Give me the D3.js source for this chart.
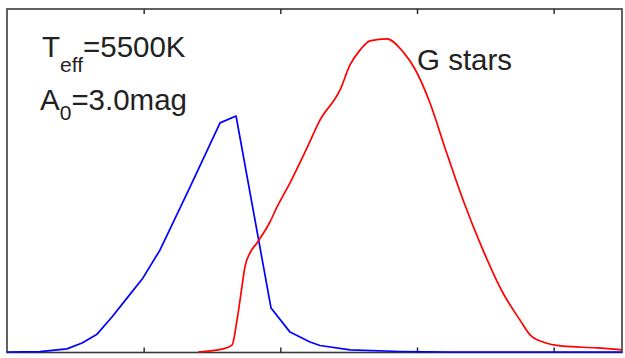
<!DOCTYPE html>
<html>
<head>
<meta charset="utf-8">
<script src="https://cdn.jsdelivr.net/npm/d3@7"></script>
<style>
  html, body { margin: 0; padding: 0; background: #fff; }
  svg { display: block; }
  text { font-family: "Liberation Sans", Arial, Helvetica, sans-serif; fill: #222; }
</style>
</head>
<body>
<svg id="chart" width="625" height="358"></svg>
<script>
// Distribution of the unreddened (blue) and reddened G-star sample (red)
const xTicks = [1, 2, 3, 4];

const blueX = [0, 0.241, 0.439, 0.549, 0.659, 0.768, 0.878, 0.995, 1.119, 1.339, 1.559, 1.676,
               1.932, 2.071, 2.217, 2.290, 2.510, 2.876, 3.241, 4.5];
const blueY = [0, 0.001, 0.009, 0.026, 0.052, 0.102, 0.157, 0.216, 0.297, 0.481, 0.668, 0.688,
               0.128, 0.058, 0.029, 0.019, 0.006, 0.0015, 0, 0];

const redX = [1.398, 1.580, 1.646, 1.683, 1.719, 1.741, 1.778, 1.829, 1.924, 1.976,
              2.071, 2.195, 2.290, 2.437, 2.510, 2.583, 2.656, 2.780, 2.898, 2.985,
              3.095, 3.205, 3.337, 3.483, 3.629, 3.754, 3.827, 3.922, 4.068, 4.317, 4.5];
const redY = [0, 0.009, 0.020, 0.093, 0.190, 0.248, 0.289, 0.318, 0.379, 0.423,
              0.493, 0.595, 0.676, 0.764, 0.837, 0.880, 0.907, 0.913, 0.875, 0.825,
              0.726, 0.595, 0.443, 0.297, 0.172, 0.093, 0.050, 0.029, 0.017, 0.012, 0.006];

const box = { left: 7, right: 622, top: 9, bottom: 352.5 };

const svg = d3.select("#chart");

const x = d3.scaleLinear().domain([0, 4.5]).range([box.left, box.right]);
const y = d3.scaleLinear().domain([0, 1]).range([352, 9]);

// frame
svg.append("rect")
  .attr("x", box.left).attr("y", box.top)
  .attr("width", box.right - box.left).attr("height", box.bottom - box.top)
  .attr("fill", "none").attr("stroke", "#3a3a3a").attr("stroke-width", 1.6);

// inward ticks on top and bottom edges
const bottomAxis = d3.axisBottom(x).tickValues(xTicks).tickSize(-5).tickFormat("");
const topAxis = d3.axisTop(x).tickValues(xTicks).tickSize(-5).tickFormat("");
[[bottomAxis, box.bottom], [topAxis, box.top]].forEach(([ax, ypos]) => {
  const g = svg.append("g").attr("transform", `translate(0,${ypos})`).call(ax);
  g.select(".domain").remove();
  g.selectAll(".tick line").attr("stroke", "#222").attr("stroke-width", 1.4);
});

const line = d3.line().x(d => x(d[0])).y(d => y(d[1]));

svg.append("path")
  .datum(d3.zip(blueX, blueY))
  .attr("d", line)
  .attr("fill", "none").attr("stroke", "#0000ff").attr("stroke-width", 1.7)
  .attr("stroke-linejoin", "round");

svg.append("path")
  .datum(d3.zip(redX, redY))
  .attr("d", line.curve(d3.curveMonotoneX))
  .attr("fill", "none").attr("stroke", "#ff0000").attr("stroke-width", 1.7)
  .attr("stroke-linejoin", "round");

// annotations
const t1 = svg.append("text").attr("x", 42).attr("y", 57).attr("font-size", 29.5);
t1.append("tspan").text("T");
t1.append("tspan").attr("font-size", 21).attr("dy", 15).text("eff");
t1.append("tspan").attr("dy", -15).text("=5500K");

const t2 = svg.append("text").attr("x", 40).attr("y", 110).attr("font-size", 29.5);
t2.append("tspan").text("A");
t2.append("tspan").attr("font-size", 21).attr("dy", 10).text("0");
t2.append("tspan").attr("dy", -10).text("=3.0mag");

svg.append("text").attr("x", 417).attr("y", 70).attr("font-size", 29.5).text("G stars");
</script>
</body>
</html>
